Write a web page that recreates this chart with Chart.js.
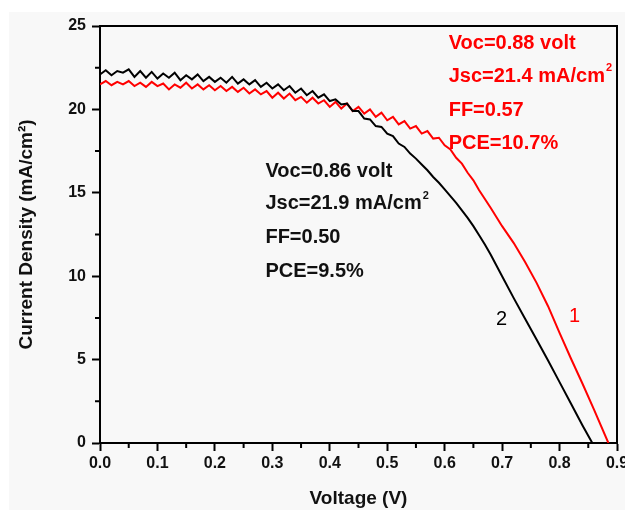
<!DOCTYPE html>
<html><head><meta charset="utf-8">
<script src="https://cdn.jsdelivr.net/npm/chart.js@4/dist/chart.umd.min.js"></script>
<style>
html,body{margin:0;padding:0;background:#fff;overflow:hidden;width:625px;height:510px;}
#bg{position:absolute;left:9px;top:12px;right:0;bottom:0;background:#f8f8f8;}
#wrap{position:absolute;left:0;top:0;width:640px;height:520px;}
</style></head><body>
<div id="bg"></div>
<div id="wrap"><canvas id="c" width="640" height="520"></canvas></div>
<script>
// ---- data ----
const voltage2 = [0.00,0.01,0.02,0.03,0.04,0.05,0.06,0.07,0.08,0.09,
  0.10,0.11,0.12,0.13,0.14,0.15,0.16,0.17,0.18,0.19,
  0.20,0.21,0.22,0.23,0.24,0.25,0.26,0.27,0.28,0.29,
  0.30,0.31,0.32,0.33,0.34,0.35,0.36,0.37,0.38,0.39,
  0.40,0.41,0.42,0.43,0.44,0.45,0.46,0.47,0.48,0.49,
  0.50,0.51,0.52,0.53,0.54,0.55,0.56,0.57,0.58,0.59,0.60,
  0.61,0.62,0.63,0.64,0.65,0.66,0.67,0.68,0.70,0.72,0.74,0.76,0.78,0.80,0.82,0.84,0.857];
const current2 = [22.1,22.35,22.05,22.3,22.2,22.4,21.95,22.3,21.9,22.25,
  21.85,22.15,21.9,22.2,21.75,22.05,21.8,22.1,21.7,21.95,
  21.65,21.9,21.6,21.95,21.55,21.8,21.5,21.75,21.35,21.6,
  21.25,21.5,21.15,21.4,21.0,21.25,20.85,21.1,20.7,20.9,
  20.5,20.6,20.3,20.35,19.9,19.9,19.45,19.4,19.0,18.95,
  18.55,18.4,17.95,17.75,17.35,17.05,16.7,16.35,15.95,15.6,15.2,
  14.8,14.4,13.95,13.5,13.0,12.45,11.9,11.3,10.0,8.7,7.45,6.2,4.95,3.65,2.35,1.05,0.0];

const voltage1 = [0.00,0.01,0.02,0.03,0.04,0.05,0.06,0.07,0.08,0.09,
  0.10,0.11,0.12,0.13,0.14,0.15,0.16,0.17,0.18,0.19,
  0.20,0.21,0.22,0.23,0.24,0.25,0.26,0.27,0.28,0.29,
  0.30,0.31,0.32,0.33,0.34,0.35,0.36,0.37,0.38,0.39,
  0.40,0.41,0.42,0.43,0.44,0.45,0.46,0.47,0.48,0.49,
  0.50,0.51,0.52,0.53,0.54,0.55,0.56,0.57,0.58,0.59,
  0.60,0.61,0.62,0.63,0.64,0.65,0.66,
  0.68,0.70,0.72,0.74,0.76,0.78,0.80,0.82,0.84,0.86,0.885];
const current1 = [21.5,21.7,21.45,21.65,21.5,21.7,21.4,21.6,21.35,21.65,
  21.4,21.55,21.2,21.5,21.3,21.6,21.25,21.5,21.2,21.45,
  21.15,21.4,21.1,21.35,21.05,21.3,20.95,21.2,20.9,21.1,
  20.7,21.0,20.65,20.95,20.55,20.75,20.4,20.7,20.35,20.55,
  20.15,20.45,20.05,20.35,19.9,20.15,19.75,20.0,19.55,19.8,
  19.35,19.55,19.1,19.3,18.85,19.0,18.55,18.7,18.25,18.3,
  17.85,17.6,17.1,16.75,16.2,15.75,15.15,
  14.1,13.0,12.0,10.85,9.6,8.2,6.6,5.05,3.55,2.0,0.0];

const xTicks = [0.0,0.1,0.2,0.3,0.4,0.5,0.6,0.7,0.8,0.9];
const yTicks = [0,5,10,15,20,25];
const xMinor = [0.05,0.15,0.25,0.35,0.45,0.55,0.65,0.75,0.85];
const yMinor = [2.5,7.5,12.5,17.5,22.5];

const notes1 = ["Voc=0.88 volt","Jsc=21.4 mA/cm","FF=0.57","PCE=10.7%"];
const notes2 = ["Voc=0.86 volt","Jsc=21.9 mA/cm","FF=0.50","PCE=9.5%"];
const notes1Pos = {v:0.607, j:[23.98,22.0,19.96,17.93]};
const notes2Pos = {v:0.288, j:[16.25,14.33,12.35,10.3]};
const curveLabels = [{t:"1", v:0.826, j:7.6, c:"#ff0000"},{t:"2", v:0.699, j:7.4, c:"#000000"}];

const FONT = '"Liberation Sans", Arial, sans-serif';

const extras = {
  id:'extras',
  afterDraw(chart){
    const ctx = chart.ctx, a = chart.chartArea;
    const xs = chart.scales.x, ys = chart.scales.y;
    ctx.save();
    ctx.strokeStyle = '#000'; ctx.lineWidth = 2;
    ctx.beginPath();
    ctx.moveTo(a.left, a.top); ctx.lineTo(a.right, a.top); ctx.lineTo(a.right, a.bottom);
    ctx.stroke();
    ctx.beginPath();
    xMinor.forEach(v=>{const px = xs.getPixelForValue(v); ctx.moveTo(px, a.bottom); ctx.lineTo(px, a.bottom+5);});
    yMinor.forEach(v=>{const py = ys.getPixelForValue(v); ctx.moveTo(a.left, py); ctx.lineTo(a.left-5, py);});
    ctx.stroke();
    ctx.textBaseline = 'middle'; ctx.textAlign = 'left';
    const block = (lines, pos, color) => {
      ctx.fillStyle = color;
      const x = xs.getPixelForValue(pos.v);
      lines.forEach((t,i)=>{
        const y = ys.getPixelForValue(pos.j[i]);
        ctx.font = 'bold 20px ' + FONT;
        ctx.fillText(t, x, y);
        if (t.endsWith('cm')) {
          const w = ctx.measureText(t).width;
          ctx.font = 'bold 11px ' + FONT;
          ctx.fillText('2', x + w + 1, y - 8);
        }
      });
    };
    block(notes1, notes1Pos, '#ff0000');
    block(notes2, notes2Pos, '#111111');
    ctx.textAlign = 'center';
    ctx.font = '20px ' + FONT;
    curveLabels.forEach(l=>{
      ctx.fillStyle = l.c;
      ctx.fillText(l.t, xs.getPixelForValue(l.v), ys.getPixelForValue(l.j));
    });
    ctx.restore();
  }
};

new Chart(document.getElementById('c'), {
  type:'line',
  data:{
    datasets:[
      {label:'2', data: voltage2.map((v,i)=>({x:v, y:current2[i]})), borderColor:'#000000', borderWidth:2, pointRadius:0, tension:0, fill:false},
      {label:'1', data: voltage1.map((v,i)=>({x:v, y:current1[i]})), borderColor:'#ff0000', borderWidth:2, pointRadius:0, tension:0, fill:false}
    ]
  },
  options:{
    responsive:false, animation:false, devicePixelRatio:1,
    layout:{padding:{top:26, right:23, left:0, bottom:0}},
    plugins:{legend:{display:false}, tooltip:{enabled:false}},
    scales:{
      x:{type:'linear', min:0, max:0.9,
        afterBuildTicks(s){ s.ticks = xTicks.map(v=>({value:v})); },
        afterFit(s){ s.height = 77; },
        ticks:{callback:v=>Number(v).toFixed(1), color:'#111', font:{family:FONT, size:16, weight:'bold'}, padding:3, maxRotation:0, autoSkip:false},
        grid:{display:true, drawOnChartArea:false, drawTicks:true, tickLength:8, tickWidth:2, tickColor:'#000'},
        border:{display:true, color:'#000', width:2},
        title:{display:true, text:'Voltage (V)', color:'#111', font:{family:FONT, size:19, weight:'bold'}, padding:{top:0, bottom:10}}
      },
      y:{type:'linear', min:0, max:25,
        afterBuildTicks(s){ s.ticks = yTicks.map(v=>({value:v})); },
        afterFit(s){ s.width = 100; },
        ticks:{color:'#111', font:{family:FONT, size:16, weight:'bold'}, padding:6, autoSkip:false},
        grid:{display:true, drawOnChartArea:false, drawTicks:true, tickLength:8, tickWidth:2, tickColor:'#000'},
        border:{display:true, color:'#000', width:2},
        title:{display:true, text:'Current Density (mA/cm²)', color:'#111', font:{family:FONT, size:19, weight:'bold'}, padding:{top:15, bottom:0}}
      }
    }
  },
  plugins:[extras]
});
</script>
</body></html>
